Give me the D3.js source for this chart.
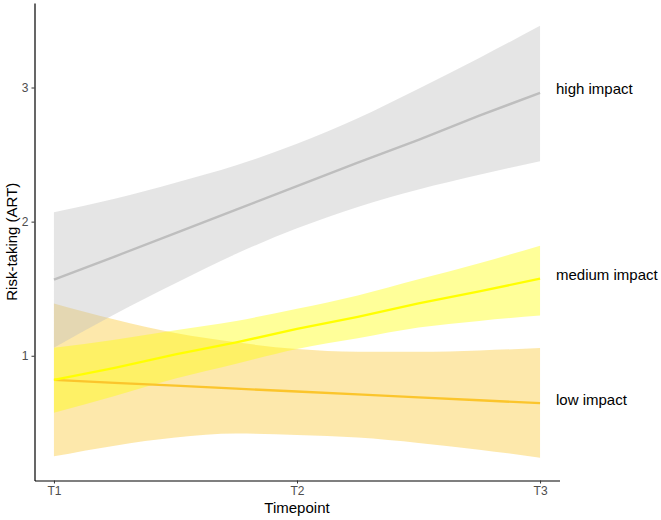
<!DOCTYPE html>
<html>
<head>
<meta charset="utf-8">
<script src="https://cdn.jsdelivr.net/npm/d3@7"></script>
<style>
  body { margin: 0; background: #fff; }
  svg { display: block; font-family: "Liberation Sans", Arial, sans-serif; }
</style>
</head>
<body>
<div id="chart"></div>
<script>
  // timepoints on the x axis
  const timepoints = ["T1", "T2", "T3"];
  // positions (timepoint units) where the fitted band was read
  const tGrid = [1, 1.25, 1.5, 1.75, 2, 2.25, 2.5, 2.75, 3];

  const highFit   = [1.567, 1.74, 1.915, 2.09, 2.265, 2.44, 2.61, 2.79, 2.96];
  const highLower = [1.06, 1.31, 1.54, 1.76, 1.95, 2.11, 2.24, 2.35, 2.45];
  const highUpper = [2.07, 2.17, 2.29, 2.42, 2.58, 2.77, 2.99, 3.22, 3.46];

  const mediumFit   = [0.82, 0.91, 1.01, 1.10, 1.20, 1.29, 1.39, 1.48, 1.575];
  const mediumLower = [0.575, 0.70, 0.83, 0.94, 1.05, 1.13, 1.21, 1.26, 1.30];
  const mediumUpper = [1.06, 1.12, 1.19, 1.26, 1.35, 1.45, 1.57, 1.69, 1.82];

  const lowFit   = [0.82, 0.798, 0.777, 0.755, 0.733, 0.712, 0.69, 0.668, 0.647];
  const lowLower = [0.25, 0.33, 0.39, 0.42, 0.41, 0.39, 0.35, 0.30, 0.24];
  const lowUpper = [1.39, 1.27, 1.17, 1.10, 1.05, 1.03, 1.03, 1.04, 1.057];

  const groups = [
    { name: "low impact",    fit: lowFit,    lower: lowLower,    upper: lowUpper,    color: "#fbc52c" },
    { name: "medium impact", fit: mediumFit, lower: mediumLower, upper: mediumUpper, color: "#ffff00" },
    { name: "high impact",   fit: highFit,   lower: highLower,   upper: highUpper,   color: "#bebebe" }
  ];

  const width = 661, height = 520;

  const x = d3.scaleLinear().domain([0.92, 3.08]).range([34.5, 559.5]);
  const y = d3.scaleLinear().domain([0.07, 3.63]).range([480.5, 3]);

  const svg = d3.select("#chart").append("svg")
    .attr("width", width)
    .attr("height", height);

  const rows = g => tGrid.map((t, i) => ({ t, fit: g.fit[i], lo: g.lower[i], hi: g.upper[i] }));

  const area = d3.area()
    .x(d => x(d.t))
    .y0(d => y(d.lo))
    .y1(d => y(d.hi))
    .curve(d3.curveMonotoneX);

  const line = d3.line()
    .x(d => x(d.t))
    .y(d => y(d.fit));

  // confidence bands
  svg.append("g")
    .selectAll("path")
    .data(groups)
    .join("path")
      .attr("d", g => area(rows(g)))
      .attr("fill", g => g.color)
      .attr("fill-opacity", 0.4);

  // fitted lines
  svg.append("g")
    .attr("fill", "none")
    .selectAll("path")
    .data(groups)
    .join("path")
      .attr("d", g => line(rows(g)))
      .attr("stroke", g => g.color)
      .attr("stroke-width", 2.4);

  // end labels
  svg.append("g")
    .style("font-size", "15px")
    .selectAll("text")
    .data(groups)
    .join("text")
      .attr("x", 556)
      .attr("y", g => y(g.fit[g.fit.length - 1]))
      .attr("dy", "0.1em")
      .attr("fill", "#000")
      .text(g => g.name);

  // axes
  const yAxis = svg.append("g")
    .attr("transform", `translate(${x.range()[0]},0)`)
    .call(d3.axisLeft(y).tickValues([1, 2, 3]).tickFormat(d3.format("d")).tickSize(3).tickSizeOuter(0).tickPadding(3));

  const xAxis = svg.append("g")
    .attr("transform", `translate(0,${y.range()[0]})`)
    .call(d3.axisBottom(x).tickValues([1, 2, 3]).tickFormat(i => timepoints[i - 1]).tickSize(3).tickSizeOuter(0).tickPadding(3));

  [yAxis, xAxis].forEach(a => {
    a.select(".domain").attr("stroke", "#000").attr("stroke-width", 1.2);
    a.selectAll(".tick line").attr("stroke", "#333");
    a.selectAll(".tick text")
      .attr("fill", "#4d4d4d")
      .style("font-size", "12px")
      .style("font-family", "Liberation Sans, Arial, sans-serif");
  });

  // axis titles
  svg.append("text")
    .attr("x", (x.range()[0] + x.range()[1]) / 2)
    .attr("y", 513)
    .attr("text-anchor", "middle")
    .style("font-size", "15px")
    .text("Timepoint");

  svg.append("text")
    .attr("transform", `translate(17,${(y.range()[0] + y.range()[1]) / 2}) rotate(-90)`)
    .attr("text-anchor", "middle")
    .style("font-size", "15px")
    .text("Risk-taking (ART)");
</script>
</body>
</html>
